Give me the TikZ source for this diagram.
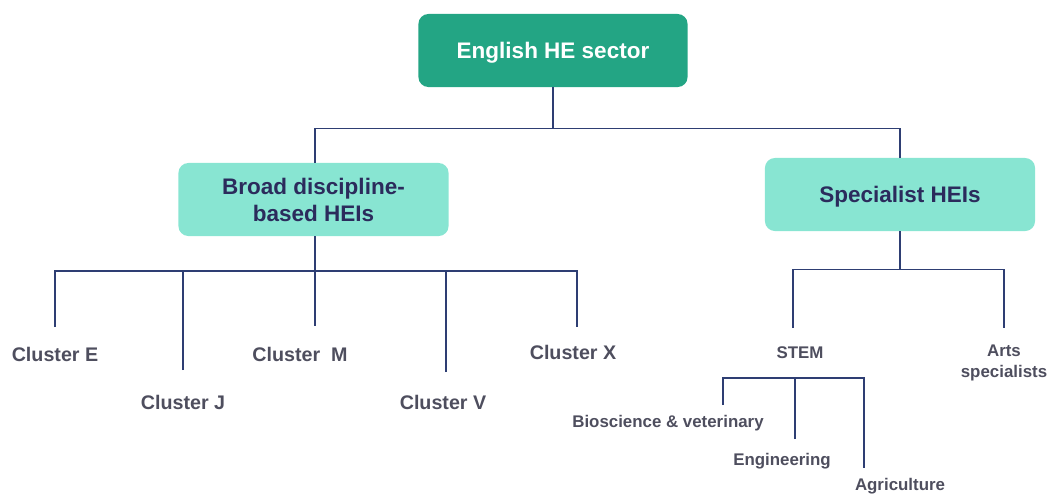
\documentclass[tikz,border=0pt]{standalone}
\usepackage{fontspec}
\setmainfont{Liberation Sans}
\usetikzlibrary{positioning}
\definecolor{sectorgreen}{HTML}{23A584}
\definecolor{hemint}{HTML}{88E5D2}
\definecolor{linknavy}{HTML}{2E3E73}
\definecolor{boxtext}{HTML}{2B2B5C}
\definecolor{leafgray}{HTML}{4E4E5E}
\tikzset{
  sectorbox/.style={fill=sectorgreen, rounded corners=7pt, minimum width=6.725cm, minimum height=1.825cm, text depth=0pt, text=white, font=\fontsize{16}{19}\selectfont\bfseries},
  typebox/.style={fill=hemint, rounded corners=7pt, minimum width=6.75cm, minimum height=1.825cm, text depth=0pt, text=boxtext, align=center, font=\fontsize{16}{19}\selectfont\bfseries},
  leaf/.style={text=leafgray, font=\fontsize{14}{16}\selectfont\bfseries, inner sep=0pt, anchor=base},
  subleaf/.style={leaf, font=\fontsize{12}{15}\selectfont\bfseries, align=center},
  link/.style={linknavy, line width=1.1pt},
}

\begin{document}
\begin{tikzpicture}[x=0.025cm, y=-0.025cm]
\useasboundingbox (0,0) rectangle (1047,495);
% boxes
\node[sectorbox] (sector) at (553,50.5) {English HE sector};
\node[typebox] (broad) at (313.5,199.5) {Broad discipline-\\based HEIs};
\node[typebox] (special) at (900,194.5) {Specialist HEIs};
% clusters
\node[leaf] (clE) at (55,361) {Cluster E};
\node[leaf] (clJ) at (183,409) {Cluster J};
\node[leaf] (clM) at (300,361) {Cluster\ \ M};
\node[leaf] (clV) at (443,409) {Cluster V};
\node[leaf] (clX) at (573,359) {Cluster X};
% specialist groups
\node[subleaf] (stem) at (800,358) {STEM};
\node[subleaf, anchor=north] (arts) at (1004,345) {Arts\\specialists};
\node[subleaf] (bio) at (668,427) {Bioscience \& veterinary};
\node[subleaf] (eng) at (782,465) {Engineering};
\node[subleaf] (agri) at (900,490) {Agriculture};
% line ends above the labels
\coordinate (dE) at (55,327);
\coordinate (dJ) at (183,370);
\coordinate (dM) at (315,326);
\coordinate (dV) at (446,372);
\coordinate (dX) at (577,327);
\coordinate (dStem) at (793,328);
\coordinate (dArts) at (1004,328);
\coordinate (dBio) at (723,405);
\coordinate (dEng) at (795,439);
\coordinate (dAgri) at (864,468);
% tree lines
\draw[link] (sector.south) -- ++(0,41) coordinate (hub);
\draw[link] (broad.north -| 315,0) |- (hub) -| (special.north);
\draw[link] (broad.south -| 315,0) -- (dM);
\draw[link] (dE) |- (315,271) -| (dX);
\draw[link] (dJ) -- (dJ |- dE) -- (183,271);
\draw[link] (dV) -- (446,271);
\draw[link] (special.south) -- ++(0,38) coordinate (shub);
\draw[link] (dStem) |- (shub) -| (dArts);
\draw[link] (dBio) |- (795,378) -| (dAgri);
\draw[link] (dEng) -- (795,378);
\end{tikzpicture}
\end{document}
